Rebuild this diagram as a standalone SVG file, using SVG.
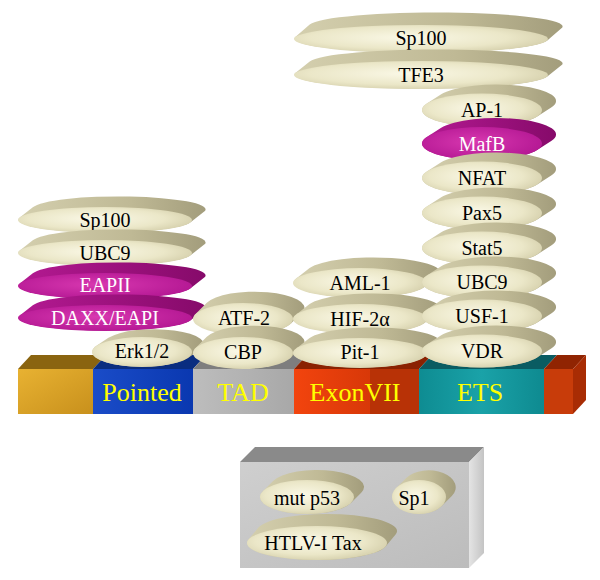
<svg xmlns="http://www.w3.org/2000/svg" width="600" height="580" viewBox="0 0 600 580">
<defs>
<radialGradient id="kf" cx="45%" cy="45%" r="65%"><stop offset="0" stop-color="#faf8e6"/><stop offset="0.6" stop-color="#ebe7c8"/><stop offset="1" stop-color="#cfc9a4"/></radialGradient>
<linearGradient id="kb" x1="0" y1="0" x2="1" y2="0"><stop offset="0" stop-color="#d4cfae"/><stop offset="0.6" stop-color="#bfb995"/><stop offset="1" stop-color="#a39d7c"/></linearGradient>
<radialGradient id="mf" cx="45%" cy="45%" r="65%"><stop offset="0" stop-color="#d838b0"/><stop offset="1" stop-color="#b01490"/></radialGradient>
<linearGradient id="mb" x1="0" y1="0" x2="1" y2="0"><stop offset="0" stop-color="#b41a92"/><stop offset="1" stop-color="#860a6a"/></linearGradient>
<linearGradient id="gold" x1="0" y1="0" x2="1" y2="1"><stop offset="0" stop-color="#e8b232"/><stop offset="1" stop-color="#c8901c"/></linearGradient>
<linearGradient id="blue" x1="0" y1="0" x2="1" y2="0"><stop offset="0" stop-color="#1a4cc8"/><stop offset="1" stop-color="#0a38b0"/></linearGradient>
<linearGradient id="gray" x1="0" y1="0" x2="1" y2="0"><stop offset="0" stop-color="#bdbdbd"/><stop offset="1" stop-color="#a8a8a8"/></linearGradient>
<linearGradient id="red" x1="0" y1="0" x2="1" y2="0"><stop offset="0" stop-color="#f2440e"/><stop offset="1" stop-color="#d83808"/></linearGradient>
<linearGradient id="teal" x1="0" y1="0" x2="1" y2="0"><stop offset="0" stop-color="#0e8c92"/><stop offset="0.5" stop-color="#1aa2a8"/><stop offset="1" stop-color="#0e8a90"/></linearGradient>
<linearGradient id="boxf" x1="0" y1="0" x2="1" y2="1"><stop offset="0" stop-color="#cfcfcf"/><stop offset="1" stop-color="#bcbcbc"/></linearGradient>
<linearGradient id="boxs" x1="0" y1="0" x2="1" y2="0"><stop offset="0" stop-color="#e4e4e4"/><stop offset="1" stop-color="#c4c4c4"/></linearGradient>
</defs>
<style>
.kb{fill:url(#kb)}
.kf{fill:url(#kf)}
.mb{fill:url(#mb)}
.mf{fill:url(#mf)}
text{font-family:"Liberation Serif","Times New Roman",serif;font-size:20px;text-anchor:middle;fill:#000}
.w{fill:#fff}
.bl{font-size:26px;fill:#ffff00}
</style>
<rect width="600" height="580" fill="#fff"/>
<g id="bar">
<polygon points="18,369 31,355 106,355 93,369" fill="#8a6410"/>
<polygon points="93,369 106,355 206,355 193,369" fill="#0a2d80"/>
<polygon points="193,369 206,355 307,355 294,369" fill="#7e7e7e"/>
<polygon points="294,369 307,355 432,355 419,369" fill="#8a2202"/>
<polygon points="419,369 432,355 557,355 544,369" fill="#0a5c62"/>
<polygon points="544,369 557,355 586,355 573,369" fill="#902402"/>
<polygon points="573,369 586,355 586,400 573,414" fill="#a82c04"/>
<rect x="18" y="369" width="75" height="45" fill="url(#gold)"/>
<rect x="93" y="369" width="100" height="45" fill="url(#blue)"/>
<rect x="193" y="369" width="101" height="45" fill="url(#gray)"/>
<rect x="294" y="369" width="76" height="45" fill="url(#red)"/>
<rect x="370" y="369" width="49" height="45" fill="#b83206"/>
<rect x="419" y="369" width="125" height="45" fill="url(#teal)"/>
<rect x="544" y="369" width="29" height="45" fill="#c83c0a"/>
<text class="bl" x="142" y="401">Pointed</text>
<text class="bl" x="243" y="401">TAD</text>
<text class="bl" x="355" y="401">ExonVII</text>
<text class="bl" x="480" y="401">ETS</text>
</g>

<g id="box">
<polygon points="240,462 255,447 484,447 469,462" fill="#8a8a8a"/>
<polygon points="469,462 484,447 484,553 469,568" fill="url(#boxs)"/>
<rect x="240" y="462" width="229" height="106" fill="url(#boxf)"/>
</g>

<g id="connectors"></g>

<g id="left-sp100">
<path class="kb" d="M18.8,218.3 L32.8,207.3 A87,13 0 0 1 205.2,210.7 L191.2,221.7 A87,13 0 0 1 18.8,218.3Z"/>
<ellipse class="kf" cx="105" cy="220" rx="87" ry="13"/>
<text x="105" y="227">Sp100</text>
</g>
<g id="left-ubc9">
<path class="kb" d="M18.8,251.3 L32.8,240.3 A87,13 0 0 1 205.2,243.7 L191.2,254.7 A87,13 0 0 1 18.8,251.3Z"/>
<ellipse class="kf" cx="105" cy="253" rx="87" ry="13"/>
<text x="105" y="260">UBC9</text>
</g>
<g id="eapii">
<path class="mb" d="M18.8,284.3 L32.8,273.3 A87,13 0 0 1 205.2,276.7 L191.2,287.7 A87,13 0 0 1 18.8,284.3Z"/>
<ellipse class="mf" cx="105" cy="286" rx="87" ry="13"/>
<text class="w" x="105" y="292">EAPII</text>
</g>
<g id="daxx">
<path class="mb" d="M18.8,316.3 L32.8,305.3 A87,13 0 0 1 205.2,308.7 L191.2,319.7 A87,13 0 0 1 18.8,316.3Z"/>
<ellipse class="mf" cx="105" cy="318" rx="87" ry="13"/>
<text class="w" x="105" y="325">DAXX/EAPI</text>
</g>
<g id="erk">
<path class="kb" d="M96.4,345.85 L108.4,337.85 A50,15 0 0 1 199.6,350.15 L187.6,358.15 A50,15 0 0 1 96.4,345.85Z"/>
<ellipse class="kf" cx="142" cy="352" rx="50" ry="15"/>
<text x="142" y="358">Erk1/2</text>
</g>

<g id="atf2">
<path class="kb" d="M194.8,314.8 L206.8,302.8 A50,16 0 0 1 303.2,311.2 L291.2,323.2 A50,16 0 0 1 194.8,314.8Z"/>
<ellipse class="kf" cx="243" cy="319" rx="50" ry="16"/>
<text x="244" y="325">ATF-2</text>
</g>
<g id="cbp">
<path class="kb" d="M194.8,348.8 L206.8,336.8 A50,16 0 0 1 303.2,345.2 L291.2,357.2 A50,16 0 0 1 194.8,348.8Z"/>
<ellipse class="kf" cx="243" cy="353" rx="50" ry="16"/>
<text x="243" y="359">CBP</text>
</g>

<g id="aml1">
<path class="kb" d="M295.6,278.9 L309.6,267.9 A67,15 0 0 1 438.4,276.1 L424.4,287.1 A67,15 0 0 1 295.6,278.9Z"/>
<ellipse class="kf" cx="360" cy="283" rx="67" ry="15"/>
<text x="360" y="290">AML-1</text>
</g>
<g id="hif2a">
<path class="kb" d="M295.6,314.9 L309.6,303.9 A67,15 0 0 1 438.4,312.1 L424.4,323.1 A67,15 0 0 1 295.6,314.9Z"/>
<ellipse class="kf" cx="360" cy="319" rx="67" ry="15"/>
<text x="360" y="326">HIF-2α</text>
</g>
<g id="pit1">
<path class="kb" d="M295.6,348.9 L309.6,337.9 A67,15 0 0 1 438.4,346.1 L424.4,357.1 A67,15 0 0 1 295.6,348.9Z"/>
<ellipse class="kf" cx="360" cy="353" rx="67" ry="15"/>
<text x="360" y="359">Pit-1</text>
</g>

<g id="top-sp100">
<path class="kb" d="M294.7,37.6 L309.7,24.6 A127,14 0 0 1 562.3,27.4 L547.3,40.4 A127,14 0 0 1 294.7,37.6Z"/>
<ellipse class="kf" cx="421" cy="39" rx="127" ry="14"/>
<text x="421" y="45">Sp100</text>
</g>
<g id="tfe3">
<path class="kb" d="M294.7,73.6 L309.7,61.6 A127,14 0 0 1 562.3,64.4 L547.3,76.4 A127,14 0 0 1 294.7,73.6Z"/>
<ellipse class="kf" cx="421" cy="75" rx="127" ry="14"/>
<text x="421" y="82">TFE3</text>
</g>

<g id="ap1">
<path class="kb" d="M426.8,103.5 L440.8,94.5 A60,16.5 0 0 1 551.2,107.5 L537.2,116.5 A60,16.5 0 0 1 426.8,103.5Z"/>
<ellipse class="kf" cx="482" cy="110" rx="60" ry="16.5"/>
<text x="482" y="117">AP-1</text>
</g>
<g id="mafb">
<path class="mb" d="M426.8,137 L440.8,128 A60,16.5 0 0 1 551.2,141 L537.2,150 A60,16.5 0 0 1 426.8,137Z"/>
<ellipse class="mf" cx="482" cy="143.5" rx="60" ry="16.5"/>
<text class="w" x="482" y="150.5">MafB</text>
</g>
<g id="nfat">
<path class="kb" d="M426.8,171.5 L440.8,162.5 A60,16.5 0 0 1 551.2,175.5 L537.2,184.5 A60,16.5 0 0 1 426.8,171.5Z"/>
<ellipse class="kf" cx="482" cy="178" rx="60" ry="16.5"/>
<text x="482" y="185">NFAT</text>
</g>
<g id="pax5">
<path class="kb" d="M426.8,206.5 L440.8,197.5 A60,16.5 0 0 1 551.2,210.5 L537.2,219.5 A60,16.5 0 0 1 426.8,206.5Z"/>
<ellipse class="kf" cx="482" cy="213" rx="60" ry="16.5"/>
<text x="482" y="220">Pax5</text>
</g>
<g id="stat5">
<path class="kb" d="M426.8,241.5 L440.8,232.5 A60,16.5 0 0 1 551.2,245.5 L537.2,254.5 A60,16.5 0 0 1 426.8,241.5Z"/>
<ellipse class="kf" cx="482" cy="248" rx="60" ry="16.5"/>
<text x="482" y="255">Stat5</text>
</g>
<g id="ubc9">
<path class="kb" d="M426.8,275.5 L440.8,266.5 A60,16.5 0 0 1 551.2,279.5 L537.2,288.5 A60,16.5 0 0 1 426.8,275.5Z"/>
<ellipse class="kf" cx="482" cy="282" rx="60" ry="16.5"/>
<text x="482" y="289">UBC9</text>
</g>
<g id="usf1">
<path class="kb" d="M426.8,309.5 L440.8,300.5 A60,16.5 0 0 1 551.2,313.5 L537.2,322.5 A60,16.5 0 0 1 426.8,309.5Z"/>
<ellipse class="kf" cx="482" cy="316" rx="60" ry="16.5"/>
<text x="482" y="323">USF-1</text>
</g>
<g id="vdr">
<path class="kb" d="M426.8,344.5 L440.8,335.5 A60,16.5 0 0 1 551.2,348.5 L537.2,357.5 A60,16.5 0 0 1 426.8,344.5Z"/>
<ellipse class="kf" cx="482" cy="351" rx="60" ry="16.5"/>
<text x="482" y="358">VDR</text>
</g>

<g id="mutp53">
<path class="kb" d="M262.8,491.2 L272.8,481.2 A47,17 0 0 1 361.2,492.8 L351.2,502.8 A47,17 0 0 1 262.8,491.2Z"/>
<ellipse class="kf" cx="307" cy="497" rx="47" ry="17"/>
<text x="307" y="505">mut p53</text>
</g>
<g id="sp1">
<path class="kb" d="M396.2,487.9 L406.2,477.9 A27,17 0 0 1 451.8,496.1 L441.8,506.1 A27,17 0 0 1 396.2,487.9Z"/>
<ellipse class="kf" cx="419" cy="497" rx="27" ry="17"/>
<text x="414" y="505">Sp1</text>
</g>
<g id="htlv">
<path class="kb" d="M248.4,539.6 L258.4,527.6 A70,17 0 0 1 395.6,534.4 L385.6,546.4 A70,17 0 0 1 248.4,539.6Z"/>
<ellipse class="kf" cx="317" cy="543" rx="70" ry="17"/>
<text x="313" y="550">HTLV-I Tax</text>
</g>
</svg>
